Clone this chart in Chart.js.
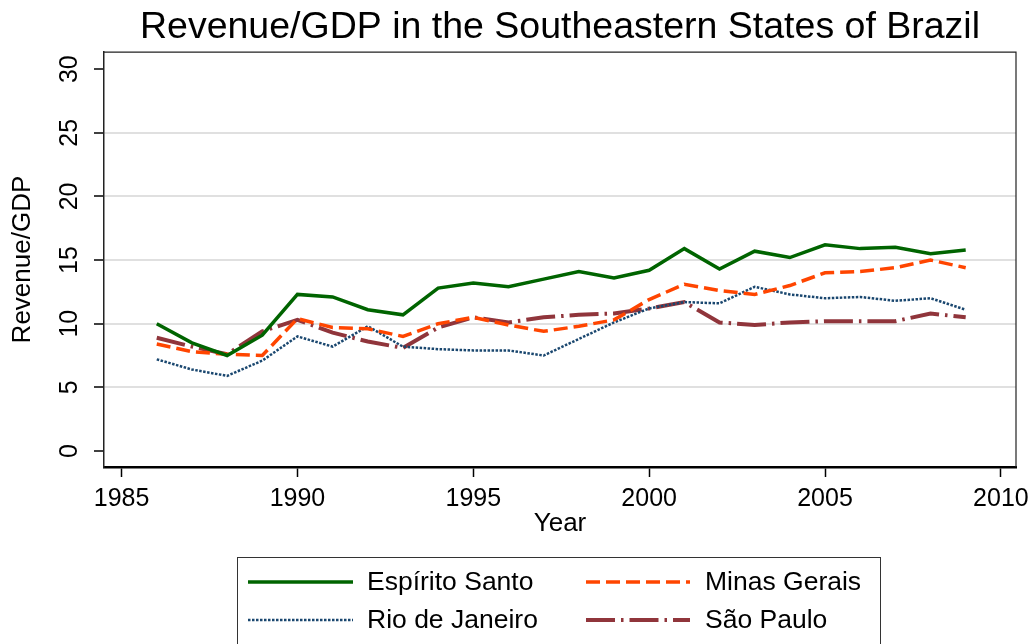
<!DOCTYPE html>
<html>
<head>
<meta charset="utf-8">
<script src="https://cdn.jsdelivr.net/npm/chart.js@4"></script>
<style>
  html, body { margin: 0; padding: 0; background: #fff; }
  #wrap { width: 1033px; height: 644px; position: relative; }
</style>
</head>
<body>
<div id="wrap"><canvas id="chart"></canvas></div>
<script>
var years = [1986, 1987, 1988, 1989, 1990, 1991, 1992, 1993, 1994, 1995, 1996, 1997,
             1998, 1999, 2000, 2001, 2002, 2003, 2004, 2005, 2006, 2007, 2008, 2009]
var espiritoSanto = [10.0, 8.5, 7.5, 9.1, 12.3, 12.1, 11.1, 10.7, 12.8, 13.2, 12.9, 13.5,
                     14.1, 13.6, 14.2, 15.9, 14.3, 15.7, 15.2, 16.2, 15.9, 16.0, 15.5, 15.8]
var minasGerais = [8.4, 7.8, 7.6, 7.5, 10.4, 9.7, 9.6, 9.0, 10.0, 10.5, 9.9, 9.4,
                   9.8, 10.3, 11.9, 13.1, 12.6, 12.3, 13.0, 14.0, 14.1, 14.4, 15.0, 14.4]
var rioDeJaneiro = [7.2, 6.4, 5.9, 7.1, 9.0, 8.2, 9.8, 8.2, 8.0, 7.9, 7.9, 7.5,
                    8.8, 10.1, 11.2, 11.7, 11.6, 12.9, 12.3, 12.0, 12.1, 11.8, 12.0, 11.1]
var saoPaulo = [8.9, 8.2, 7.6, 9.4, 10.3, 9.3, 8.6, 8.1, 9.7, 10.5, 10.1, 10.5,
                10.7, 10.8, 11.2, 11.7, 10.1, 9.9, 10.1, 10.2, 10.2, 10.2, 10.8, 10.5]
var xTicks = [1985, 1990, 1995, 2000, 2005, 2010]
var yTicks = [0, 5, 10, 15, 20, 25, 30]

var FONT = "'Liberation Sans', Arial, sans-serif"

var series = [
  { label: "Espírito Santo", data: espiritoSanto, color: "#006400", width: 3.5, dash: [] },
  { label: "Minas Gerais", data: minasGerais, color: "#ff4500", width: 3.5, dash: [14, 6] },
  { label: "Rio de Janeiro", data: rioDeJaneiro, color: "#1a476f", width: 2.5, dash: [2.5, 1.5] },
  { label: "São Paulo", data: saoPaulo, color: "#90353b", width: 4, dash: [29, 6, 2.5, 6] }
]

function toPoints(vals) {
  return vals.map(function(v, i) { return { x: years[i], y: v } })
}

// frame, rotated y tick labels and the boxed legend
var extras = {
  id: "extras",
  beforeDatasetsDraw: function(chart) {
    var a = chart.chartArea, ctx = chart.ctx
    ctx.save()
    ctx.strokeStyle = "#222"
    ctx.lineWidth = 1.2
    ctx.beginPath()
    ctx.moveTo(a.left, a.top)
    ctx.lineTo(a.right, a.top)
    ctx.lineTo(a.right, a.bottom)
    ctx.stroke()
    ctx.restore()
  },
  afterDraw: function(chart) {
    var ctx = chart.ctx
    var ys = chart.scales.y
    ctx.save()
    ctx.fillStyle = "#000"
    ctx.font = "25px " + FONT
    ctx.textAlign = "center"
    ctx.textBaseline = "middle"
    ys.ticks.forEach(function(t) {
      ctx.save()
      ctx.translate(70, ys.getPixelForValue(t.value))
      ctx.rotate(-Math.PI / 2)
      ctx.fillText(String(t.value), 0, 0)
      ctx.restore()
    })

    // legend
    ctx.strokeStyle = "#333"
    ctx.lineWidth = 1
    ctx.strokeRect(237.5, 557.5, 643, 100)
    var cols = [{ x0: 248, x1: 353, tx: 367 }, { x0: 586, x1: 690, tx: 705 }]
    var rows = [582, 620]
    ctx.font = "26.5px " + FONT
    ctx.textAlign = "left"
    series.forEach(function(s, i) {
      var c = cols[i % 2], y = rows[Math.floor(i / 2)]
      ctx.save()
      ctx.strokeStyle = s.color
      ctx.lineWidth = s.width
      ctx.setLineDash(s.dash)
      ctx.beginPath()
      ctx.moveTo(c.x0, y)
      ctx.lineTo(c.x1, y)
      ctx.stroke()
      ctx.restore()
      ctx.fillText(s.label, c.tx, y + 1)
    })
    ctx.restore()
  }
}

new Chart(document.getElementById("chart"), {
  type: "line",
  data: {
    datasets: series.map(function(s) {
      return {
        label: s.label,
        data: toPoints(s.data),
        borderColor: s.color,
        backgroundColor: s.color,
        borderWidth: s.width,
        borderDash: s.dash,
        pointRadius: 0,
        tension: 0,
        fill: false
      }
    })
  },
  options: {
    responsive: true,
    maintainAspectRatio: false,
    animation: false,
    layout: { padding: { left: 0, right: 17, top: 0, bottom: 105 } },
    plugins: {
      legend: { display: false },
      tooltip: { enabled: false },
      title: {
        display: true,
        fullSize: false,
        text: "Revenue/GDP in the Southeastern States of Brazil",
        color: "#000",
        font: { family: FONT, size: 37.5, weight: "normal", lineHeight: 1.15 },
        padding: { top: 6, bottom: 3 }
      }
    },
    scales: {
      x: {
        type: "linear",
        min: 1984.5,
        max: 2010.43,
        afterBuildTicks: function(s) { s.ticks = xTicks.map(function(v) { return { value: v } }) },
        afterFit: function(s) { s.height = 72; s.paddingLeft = 0; s.paddingRight = 0 },
        grid: { drawOnChartArea: false, drawTicks: true, tickLength: 10, tickColor: "#000", tickWidth: 1.5 },
        border: { display: true, color: "#000", width: 2.5 },
        ticks: {
          color: "#000", padding: 7, font: { family: FONT, size: 25 }, maxRotation: 0,
          callback: function(v) { return String(v) }
        },
        title: { display: true, text: "Year", color: "#000", font: { family: FONT, size: 26 }, padding: { top: 0, bottom: 0 } }
      },
      y: {
        type: "linear",
        min: -1.26,
        max: 31.34,
        afterBuildTicks: function(s) { s.ticks = yTicks.map(function(v) { return { value: v } }) },
        afterFit: function(s) { s.width = 104; s.paddingTop = 0; s.paddingBottom = 0 },
        grid: {
          color: function(c) { return (c.tick && (c.tick.value === 0 || c.tick.value === 30)) ? "rgba(0,0,0,0)" : "#e0e0e0" },
          lineWidth: 2,
          drawTicks: true,
          tickLength: 10,
          tickColor: "#000",
          tickWidth: 1.5
        },
        border: { display: true, color: "#222", width: 1.5 },
        ticks: { display: false },
        title: { display: true, text: "Revenue/GDP", color: "#000", font: { family: FONT, size: 26 }, padding: { top: 7, bottom: 0 } }
      }
    }
  },
  plugins: [extras]
})
</script>
</body>
</html>
